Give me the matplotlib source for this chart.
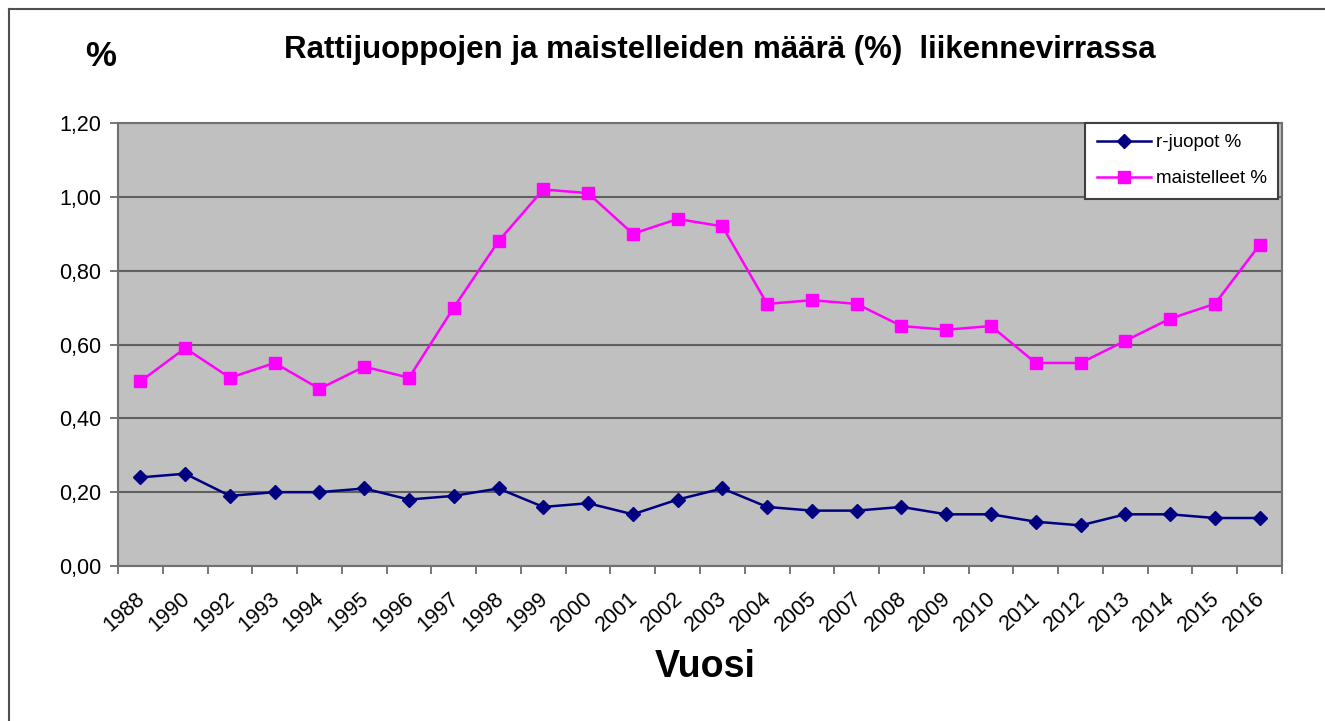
import numpy as np
import matplotlib
matplotlib.use("Agg")
import matplotlib.pyplot as plt
from matplotlib.ticker import FixedLocator, FuncFormatter
from matplotlib.transforms import ScaledTranslation

plt.rcParams['font.family'] = ['Liberation Sans', 'DejaVu Sans']

years = ["1988", "1990", "1992", "1993", "1994", "1995", "1996", "1997", "1998",
         "1999", "2000", "2001", "2002", "2003", "2004", "2005", "2007", "2008",
         "2009", "2010", "2011", "2012", "2013", "2014", "2015", "2016"]
r_juopot = [0.24, 0.25, 0.19, 0.20, 0.20, 0.21, 0.18, 0.19, 0.21, 0.16, 0.17, 0.14, 0.18,
            0.21, 0.16, 0.15, 0.15, 0.16, 0.14, 0.14, 0.12, 0.11, 0.14, 0.14, 0.13, 0.13]
maistelleet = [0.50, 0.59, 0.51, 0.55, 0.48, 0.54, 0.51, 0.70, 0.88, 1.02, 1.01, 0.90, 0.94,
               0.92, 0.71, 0.72, 0.71, 0.65, 0.64, 0.65, 0.55, 0.55, 0.61, 0.67, 0.71, 0.87]

fig = plt.figure(figsize=(13.25, 7.21), dpi=100)
ax = fig.add_axes([118/1325, 1-566/721, (1282-118)/1325, (566-123)/721])
ax.set_facecolor("#C0C0C0")

x = np.arange(len(years))
ax.plot(x, r_juopot, color="#000080", lw=1.8, marker="D", ms=7, mfc="#000080", mec="#000080",
        label="r-juopot %", zorder=3)
ax.plot(x, maistelleet, color="#FF00FF", lw=1.8, marker="s", ms=9, mfc="#FF00FF", mec="#FF00FF",
        label="maistelleet %", zorder=3)

ax.set_xlim(-0.5, len(years) - 0.5)
ax.set_ylim(0, 1.2)
ax.set_yticks(np.arange(0, 1.21, 0.2))
ax.yaxis.set_major_formatter(FuncFormatter(lambda v, p: f"{v:.2f}".replace(".", ",")))
ax.grid(axis="y", color="#606060", lw=1.5)
ax.set_axisbelow(True)

ax.set_xticks(x)
ax.set_xticklabels(years, rotation=42, ha="right", rotation_mode="anchor")
ax.xaxis.set_minor_locator(FixedLocator(np.arange(-0.5, len(years), 1.0)))
ax.tick_params(axis="x", which="major", length=0, pad=16, labelsize=15.5)
ax.tick_params(axis="x", which="minor", length=6, color="#606060", width=1.2)
ax.tick_params(axis="y", length=6, color="#606060", width=1.2, labelsize=15.5, pad=6)
shift = ScaledTranslation(-5/100, 0, fig.dpi_scale_trans)
for lab in ax.get_xticklabels():
    lab.set_transform(lab.get_transform() + shift)
for s in ax.spines.values():
    s.set_color("#707070")
    s.set_linewidth(1.5)

leg = ax.legend(loc="upper right", bbox_to_anchor=(0.9966, 1.0), borderaxespad=0,
                fontsize=13.5, frameon=True, fancybox=False, edgecolor="#404040",
                framealpha=1, borderpad=0.6, handlelength=2.9, handletextpad=0.25,
                labelspacing=1.0)
leg.get_frame().set_linewidth(1.5)

fig.text(720/1325, 1-50/721, "Rattijuoppojen ja maistelleiden määrä (%)  liikennevirrassa",
         ha="center", va="center", fontsize=22.5, fontweight="bold")
fig.text(101/1325, 1-56/721, "%", ha="center", va="center", fontsize=25, fontweight="bold")
fig.text(705/1325, 1-667/721, "Vuosi", ha="center", va="center", fontsize=27, fontweight="bold")

# outer frame (top and left edges visible in the original)
fig.add_artist(plt.Line2D([9/1325, 1], [1-9/721, 1-9/721], color="#505050", lw=1.5))
fig.add_artist(plt.Line2D([9/1325, 9/1325], [0, 1-9/721], color="#505050", lw=1.5))

fig.savefig("out.png", dpi=100)
